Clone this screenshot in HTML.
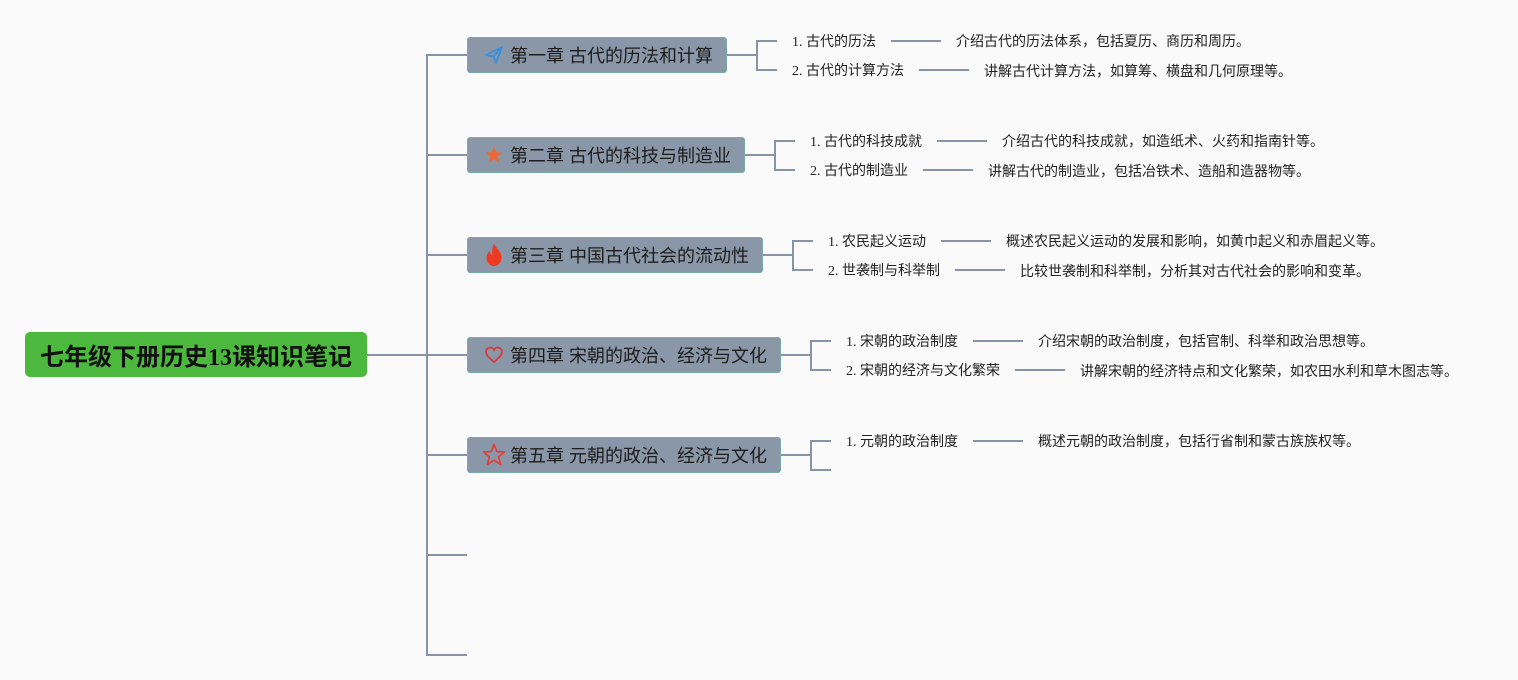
<!DOCTYPE html>
<html>
<head>
<meta charset="utf-8">
<style>
  html,body{margin:0;padding:0;}
  body{width:1518px;height:680px;background:#fafafa;position:relative;overflow:hidden;
       font-family:"Liberation Sans","Noto Sans CJK SC",sans-serif;}
  .abs{position:absolute;}
  .root{left:25px;top:332px;width:342px;height:45px;background:#4cb83d;border-radius:5px;
        display:flex;align-items:center;justify-content:center;
        font-family:"Liberation Serif","Noto Sans CJK SC",sans-serif;font-weight:bold;font-size:24px;color:#111;letter-spacing:0px;}
  .ch{left:467px;height:34px;background:#8a97a8;border:1px solid #79aaa3;border-radius:3px;
      box-sizing:content-box;font-size:18px;color:#1c1c1c;white-space:nowrap;}
  .ch .ic{position:absolute;left:16px;top:7px;width:20px;height:20px;}
  .ch .t{position:absolute;left:42px;top:1px;line-height:34px;}
  .leaf{font-family:"Liberation Serif","Noto Sans CJK SC",sans-serif;font-size:14px;color:#222;
        height:20px;line-height:20px;white-space:nowrap;}
  .desc{font-size:14px;color:#222;height:20px;line-height:20px;white-space:nowrap;
        font-family:"Liberation Sans","Noto Sans CJK SC",sans-serif;}
</style>
</head>
<body>
<svg class="abs" style="left:0;top:0" width="1518" height="680">
  <g stroke="#8893a6" stroke-width="2" fill="none">
    <line x1="367" y1="355" x2="427" y2="355"/>
    <line x1="427" y1="54" x2="427" y2="656"/>
    <line x1="427" y1="55" x2="467" y2="55"/>
    <line x1="427" y1="155" x2="467" y2="155"/>
    <line x1="427" y1="255" x2="467" y2="255"/>
    <line x1="427" y1="355" x2="467" y2="355"/>
    <line x1="427" y1="455" x2="467" y2="455"/>
    <line x1="427" y1="555" x2="467" y2="555"/>
    <line x1="427" y1="655" x2="467" y2="655"/>
    <!-- ch1 -->
    <line x1="727" y1="55" x2="757" y2="55"/>
    <polyline points="777,41 757,41 757,70 777,70"/>
    <!-- ch2 -->
    <line x1="745" y1="155" x2="775" y2="155"/>
    <polyline points="795,141 775,141 775,170 795,170"/>
    <!-- ch3 -->
    <line x1="763" y1="255" x2="793" y2="255"/>
    <polyline points="813,241 793,241 793,270 813,270"/>
    <!-- ch4 -->
    <line x1="781" y1="355" x2="811" y2="355"/>
    <polyline points="831,341 811,341 811,370 831,370"/>
    <!-- ch5 -->
    <line x1="781" y1="455" x2="811" y2="455"/>
    <polyline points="831,441 811,441 811,470 831,470"/>
    <!-- leaf to desc lines -->
    <line x1="891" y1="41" x2="941" y2="41"/>
    <line x1="919" y1="70" x2="969" y2="70"/>
    <line x1="937" y1="141" x2="987" y2="141"/>
    <line x1="923" y1="170" x2="973" y2="170"/>
    <line x1="941" y1="241" x2="991" y2="241"/>
    <line x1="955" y1="270" x2="1005" y2="270"/>
    <line x1="973" y1="341" x2="1023" y2="341"/>
    <line x1="1015" y1="370" x2="1065" y2="370"/>
    <line x1="973" y1="441" x2="1023" y2="441"/>
  </g>
</svg>

<div class="abs root">七年级下册历史13课知识笔记</div>

<div class="abs ch" style="top:37px;width:258px;">
  <svg class="ic" viewBox="0 0 20 20"><g fill="none" stroke="#3b8fd9" stroke-width="1.8" stroke-linejoin="round"><path d="M2 10 L18 2 L12 18 L9.5 11.5 Z"/><path d="M9.5 11.5 L18 2"/></g></svg>
  <span class="t">第一章 古代的历法和计算</span>
</div>
<div class="abs ch" style="top:137px;width:276px;">
  <svg class="ic" viewBox="0 0 20 20"><path fill="#e86a38" d="M10 1.5 L12.4 7.3 L18.6 7.6 L13.8 11.6 L15.4 17.8 L10 14.3 L4.6 17.8 L6.2 11.6 L1.4 7.6 L7.6 7.3 Z"/></svg>
  <span class="t">第二章 古代的科技与制造业</span>
</div>
<div class="abs ch" style="top:237px;width:294px;">
  <svg class="ic" viewBox="0 0 20 24" style="left:16px;top:5px;width:20px;height:24px;"><path fill="#ee3a22" d="M10 0.5 C11.5 5 17.5 8 17.5 14.5 C17.5 19.5 14.2 23 10 23 C5.8 23 2.5 19.5 2.5 15 C2.5 11.5 4.5 9.2 6 7.8 C6 10.2 7 12 8.3 12.6 C7.8 8 8.5 4 10 0.5 Z"/></svg>
  <span class="t">第三章 中国古代社会的流动性</span>
</div>
<div class="abs ch" style="top:337px;width:312px;">
  <svg class="ic" viewBox="0 0 20 20"><path fill="none" stroke="#d83a3a" stroke-width="1.7" d="M10 17 C6 13.5 2 10.5 2 6.8 C2 4.3 4 2.5 6.2 2.5 C8 2.5 9.3 3.6 10 5 C10.7 3.6 12 2.5 13.8 2.5 C16 2.5 18 4.3 18 6.8 C18 10.5 14 13.5 10 17 Z"/></svg>
  <span class="t">第四章 宋朝的政治、经济与文化</span>
</div>
<div class="abs ch" style="top:437px;width:312px;">
  <svg class="ic" viewBox="0 0 24 24" style="left:14px;top:5px;width:24px;height:24px;"><path fill="none" stroke="#e0403a" stroke-width="1.7" stroke-linejoin="round" d="M12 1.5 L14.9 8.6 L22.5 9 L16.6 13.9 L18.6 21.4 L12 17.2 L5.4 21.4 L7.4 13.9 L1.5 9 L9.1 8.6 Z"/></svg>
  <span class="t" style="left:42px;">第五章 元朝的政治、经济与文化</span>
</div>

<!-- leaves -->
<div class="abs leaf" style="left:792px;top:33px;">1. 古代的历法</div>
<div class="abs desc" style="left:956px;top:31px;">介绍古代的历法体系，包括夏历、商历和周历。</div>
<div class="abs leaf" style="left:792px;top:62px;">2. 古代的计算方法</div>
<div class="abs desc" style="left:984px;top:61px;">讲解古代计算方法，如算筹、横盘和几何原理等。</div>

<div class="abs leaf" style="left:810px;top:133px;">1. 古代的科技成就</div>
<div class="abs desc" style="left:1002px;top:131px;">介绍古代的科技成就，如造纸术、火药和指南针等。</div>
<div class="abs leaf" style="left:810px;top:162px;">2. 古代的制造业</div>
<div class="abs desc" style="left:988px;top:161px;">讲解古代的制造业，包括冶铁术、造船和造器物等。</div>

<div class="abs leaf" style="left:828px;top:233px;">1. 农民起义运动</div>
<div class="abs desc" style="left:1006px;top:231px;">概述农民起义运动的发展和影响，如黄巾起义和赤眉起义等。</div>
<div class="abs leaf" style="left:828px;top:262px;">2. 世袭制与科举制</div>
<div class="abs desc" style="left:1020px;top:261px;">比较世袭制和科举制，分析其对古代社会的影响和变革。</div>

<div class="abs leaf" style="left:846px;top:333px;">1. 宋朝的政治制度</div>
<div class="abs desc" style="left:1038px;top:331px;">介绍宋朝的政治制度，包括官制、科举和政治思想等。</div>
<div class="abs leaf" style="left:846px;top:362px;">2. 宋朝的经济与文化繁荣</div>
<div class="abs desc" style="left:1080px;top:361px;">讲解宋朝的经济特点和文化繁荣，如农田水利和草木图志等。</div>

<div class="abs leaf" style="left:846px;top:433px;">1. 元朝的政治制度</div>
<div class="abs desc" style="left:1038px;top:431px;">概述元朝的政治制度，包括行省制和蒙古族族权等。</div>
</body>
</html>
